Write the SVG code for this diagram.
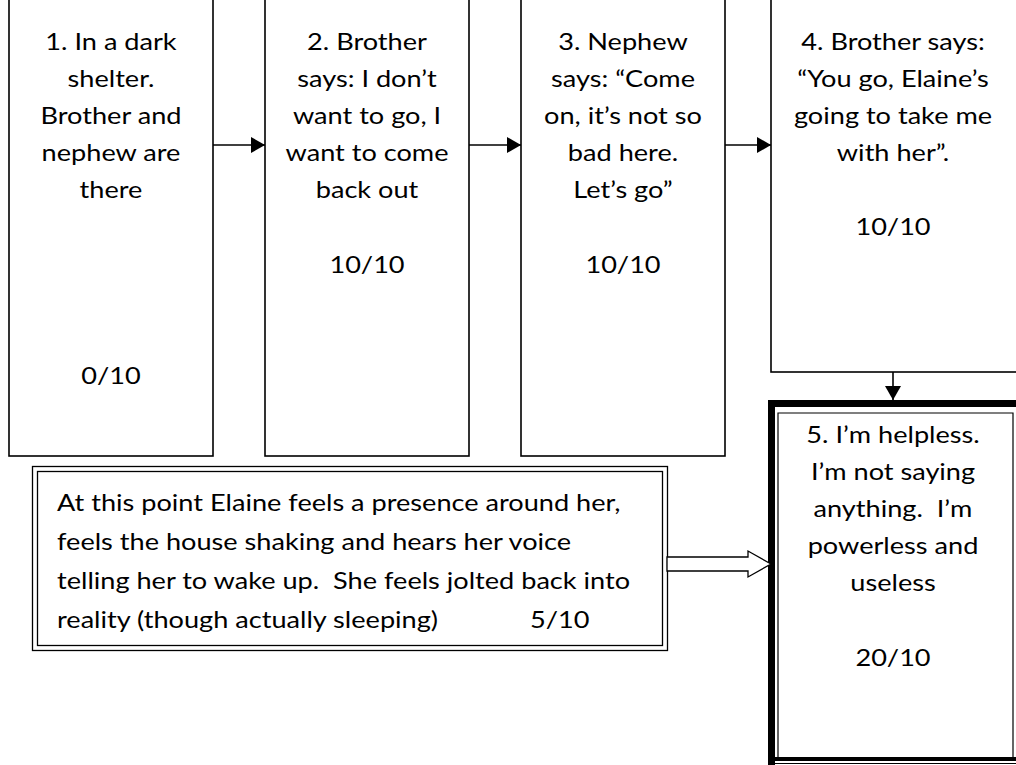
<svg xmlns="http://www.w3.org/2000/svg" width="1016" height="765" viewBox="0 0 1016 765">
<defs>
<style>
.box{fill:#fff;stroke:#000;stroke-width:1.6}
.t{font-family:Lato,"Liberation Sans",sans-serif;font-size:23px;fill:#000;text-anchor:middle}
.l{font-family:Lato,"Liberation Sans",sans-serif;font-size:23px;fill:#000}
.c{stroke:#000;stroke-width:1.6;fill:none}
</style>
<marker id="ah" markerWidth="14" markerHeight="16" refX="14" refY="8" orient="auto" markerUnits="userSpaceOnUse">
<path d="M0,0 L14,8 L0,16 Z" fill="#000"/>
</marker>
</defs>
<rect width="1016" height="765" fill="#fff"/>
<g id="n1">
<rect class="box" x="9" y="-5" width="204" height="461"/>
<g transform="translate(111 0) scale(1.18 1)">
<text class="t" x="0" y="50">1. In a dark</text>
<text class="t" x="0" y="87">shelter.</text>
<text class="t" x="0" y="124">Brother and</text>
<text class="t" x="0" y="161">nephew are</text>
<text class="t" x="0" y="198">there</text>
<text class="t" x="0" y="384">0/10</text>
</g>
</g>
<g id="n2">
<rect class="box" x="265" y="-5" width="204" height="461"/>
<g transform="translate(367 0) scale(1.18 1)">
<text class="t" x="0" y="50">2. Brother</text>
<text class="t" x="0" y="87">says: I don’t</text>
<text class="t" x="0" y="124">want to go, I</text>
<text class="t" x="0" y="161">want to come</text>
<text class="t" x="0" y="198">back out</text>
<text class="t" x="0" y="273">10/10</text>
</g>
</g>
<g id="n3">
<rect class="box" x="521" y="-5" width="204" height="461"/>
<g transform="translate(623 0) scale(1.18 1)">
<text class="t" x="0" y="50">3. Nephew</text>
<text class="t" x="0" y="87">says: “Come</text>
<text class="t" x="0" y="124">on, it’s not so</text>
<text class="t" x="0" y="161">bad here.</text>
<text class="t" x="0" y="198">Let’s go”</text>
<text class="t" x="0" y="273">10/10</text>
</g>
</g>
<g id="n4">
<rect class="box" x="771" y="-5" width="260" height="377"/>
<g transform="translate(893 0) scale(1.18 1)">
<text class="t" x="0" y="50">4. Brother says:</text>
<text class="t" x="0" y="87">“You go, Elaine’s</text>
<text class="t" x="0" y="124">going to take me</text>
<text class="t" x="0" y="161">with her”.</text>
<text class="t" x="0" y="235">10/10</text>
</g>
</g>
<g id="n5">
<rect x="771" y="403" width="260" height="360" fill="#fff"/>
<path d="M771.5,765 L771.5,403.5 L1016,403.5" fill="none" stroke="#000" stroke-width="7"/>
<line x1="768" y1="759" x2="1016" y2="759" stroke="#000" stroke-width="4"/>
<line x1="768" y1="763.5" x2="1016" y2="763.5" stroke="#000" stroke-width="1.2"/>
<path d="M778,757 L778,413 L1013,413 L1013,757" fill="none" stroke="#000" stroke-width="1.2"/>
<g transform="translate(893 0) scale(1.18 1)">
<text class="t" x="0" y="443">5. I’m helpless.</text>
<text class="t" x="0" y="480">I’m not saying</text>
<text class="t" x="0" y="517" xml:space="preserve">anything.  I’m</text>
<text class="t" x="0" y="554">powerless and</text>
<text class="t" x="0" y="591">useless</text>
<text class="t" x="0" y="666">20/10</text>
</g>
</g>
<g id="n6">
<rect x="32.5" y="466.5" width="635" height="184" fill="#fff" stroke="#000" stroke-width="1.3"/>
<rect x="37.5" y="471.5" width="625" height="174" fill="none" stroke="#000" stroke-width="1.3"/>
<g transform="translate(57 0) scale(1.18 1)">
<text class="l" x="0" y="511" xml:space="preserve">At this point Elaine feels a presence around her,</text>
<text class="l" x="0" y="550" xml:space="preserve">feels the house shaking and hears her voice</text>
<text class="l" x="0" y="589" xml:space="preserve">telling her to wake up.  She feels jolted back into</text>
<text class="l" x="0" y="628" xml:space="preserve">reality (though actually sleeping)</text>
</g>
<g transform="translate(530 0) scale(1.18 1)">
<text class="l" x="0" y="628">5/10</text>
</g>
</g>
<g id="connectors">
<line class="c" x1="213" y1="145" x2="265" y2="145" marker-end="url(#ah)"/>
<line class="c" x1="469" y1="145" x2="521" y2="145" marker-end="url(#ah)"/>
<line class="c" x1="725" y1="145" x2="771" y2="145" marker-end="url(#ah)"/>
<line class="c" x1="893" y1="372" x2="893" y2="400" marker-end="url(#ah)"/>
<path d="M667,557 L748,557 L748,551 L771,564 L748,577 L748,571 L667,571 Z" fill="#fff" stroke="#000" stroke-width="1.3"/>
</g>
</svg>
